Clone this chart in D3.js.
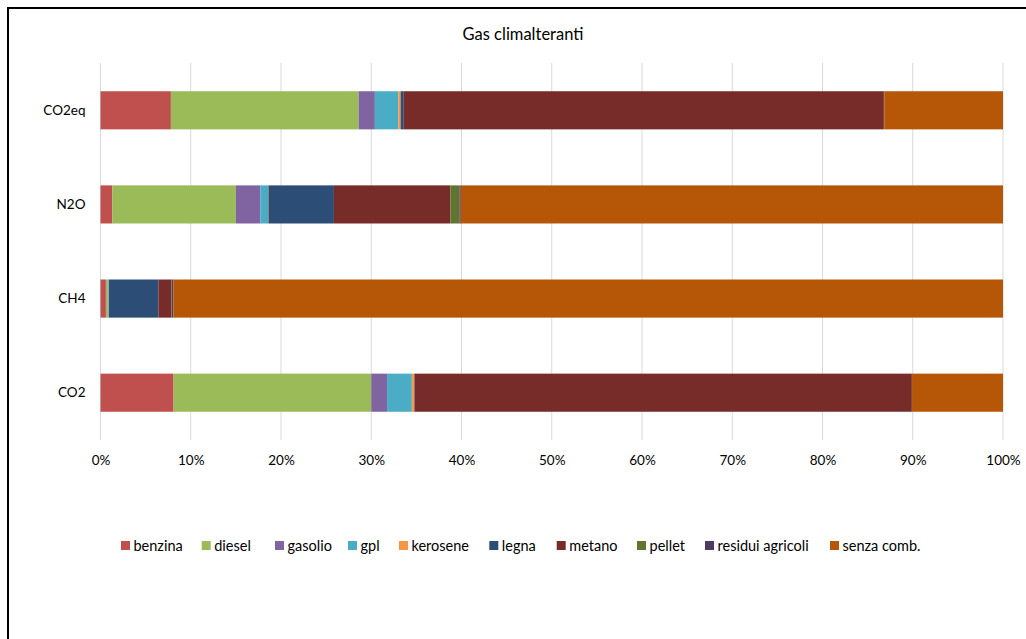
<!DOCTYPE html>
<html><head><meta charset="utf-8">
<script src="https://cdn.jsdelivr.net/npm/d3@7"></script>
<style>body{margin:0;background:#fff}svg{display:block}text{font-family:Lato,"Open Sans",sans-serif;fill:#000}</style>
</head><body>
<svg id="c" width="1026" height="639"></svg>
<script>
const categories = ["CO2eq", "N2O", "CH4", "CO2"];
const seriesNames = ["benzina","diesel","gasolio","gpl","kerosene","legna","metano","pellet","residui agricoli","senza comb."];
const colors = ["#C0504D","#9BBB59","#8064A2","#4BACC6","#F79646","#2C4D75","#772C2A","#5F7530","#4D3B62","#B65708"];
// percentages per category (CO2eq, N2O, CH4, CO2)
const benzina  = [7.8, 1.3, 0.6, 8.1];
const diesel   = [20.8, 13.7, 0.2, 21.9];
const gasolio  = [1.8, 2.7, 0.05, 1.75];
const gpl      = [2.6, 0.85, 0.05, 2.75];
const kerosene = [0.25, 0.05, 0.02, 0.25];
const legna    = [0.35, 7.25, 5.5, 0.05];
const metano   = [53.2, 12.9, 1.45, 55.1];
const pellet   = [0.02, 1.0, 0.05, 0.01];
const residui  = [0.02, 0.15, 0.15, 0.01];
const senza    = [13.16, 60.05, 91.93, 10.08];
const xTicks = [0,10,20,30,40,50,60,70,80,90,100];
const title = "Gas climalteranti";

const seriesVals = [benzina,diesel,gasolio,gpl,kerosene,legna,metano,pellet,residui,senza];
const rows = categories.map((c,i)=>{const o={cat:c}; seriesNames.forEach((s,j)=>o[s]=seriesVals[j][i]); return o;});
const stack = d3.stack().keys(seriesNames).offset(d3.stackOffsetExpand)(rows);

const svg = d3.select("#c");
// outer border
svg.append("rect").attr("x",8).attr("y",8).attr("width",1040).attr("height",660)
  .attr("fill","none").attr("stroke","#000").attr("stroke-width",2);

const L=100.5, R=1003, T=63, B=440;
const x = d3.scaleLinear().domain([0,1]).range([L,R]);
const y = d3.scaleBand().domain(categories).range([T,B]).paddingInner(0.595).paddingOuter(0.3);

svg.append("text").attr("x",523).attr("y",40).attr("text-anchor","middle").style("font-size","16.5px").text(title);

// gridlines
svg.append("g").selectAll("line").data(xTicks).join("line")
  .attr("x1",d=>x(d/100)).attr("x2",d=>x(d/100)).attr("y1",T).attr("y2",B)
  .attr("stroke","#d9d9d9").attr("stroke-width",1);

// bars
svg.append("g").selectAll("g").data(stack).join("g")
  .attr("fill",(d,i)=>colors[i])
  .selectAll("rect").data(d=>d).join("rect")
  .attr("x",d=>x(d[0])).attr("width",d=>Math.max(0,x(d[1])-x(d[0])))
  .attr("y",d=>y(d.data.cat)).attr("height",y.bandwidth());

// x axis labels
const xa = d3.axisBottom(x).tickValues(xTicks.map(d=>d/100)).tickFormat(d3.format(".0%")).tickSize(0).tickPadding(15);
const gx = svg.append("g").attr("transform",`translate(0,${B})`).call(xa);
gx.select(".domain").remove();
gx.selectAll("text").style("font-size","13.5px").style("font-family","Lato,sans-serif").attr("fill","#000");

// y axis labels
const ya = d3.axisLeft(y).tickSize(0).tickPadding(15);
const gy = svg.append("g").attr("transform",`translate(${L},0)`).call(ya);
gy.select(".domain").remove();
gy.selectAll("text").style("font-size","13.5px").style("font-family","Lato,sans-serif").attr("fill","#000");

// legend
const lg = svg.append("g").attr("transform","translate(0,546)");
const legX = [121,201.7,275,348,399,489.3,556.7,637,705,830];
seriesNames.forEach((s,i)=>{
  const g = lg.append("g").attr("transform",`translate(${legX[i]},0)`);
  g.append("rect").attr("x",0).attr("y",-5).attr("width",9).attr("height",9).attr("fill",colors[i]);
  g.append("text").attr("x",12.5).attr("y",5).style("font-size","14.5px").text(s);
});
</script>
</body></html>
